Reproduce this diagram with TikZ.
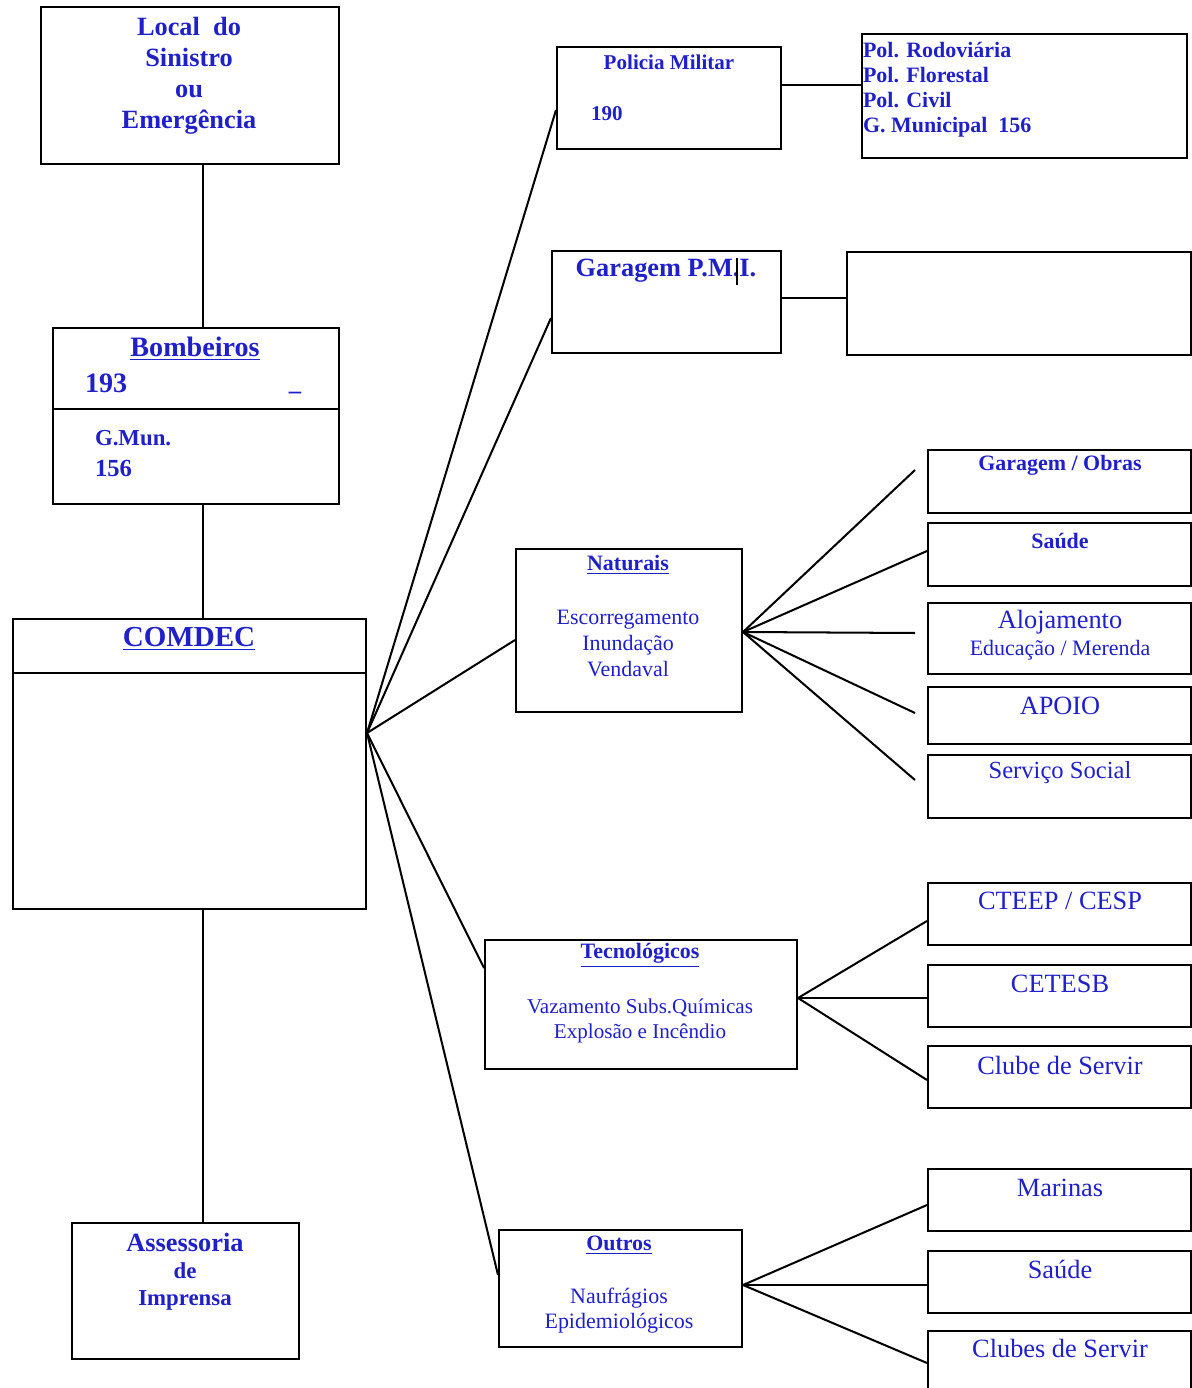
\documentclass[tikz,border=0pt]{standalone}
\usepackage{fontspec}
\setmainfont{Liberation Serif}
\usetikzlibrary{calc}
\definecolor{txtblue}{RGB}{32,32,200}
\newcommand\bx[5]{\node[box,minimum width={(#4-#2)*0.02cm},minimum height={(#5-#3)*0.02cm}] (#1) at (#2,#3) {};}
\newcommand\fs[2]{\fontsize{#1pt}{#2pt}\selectfont}
\begin{document}
\begin{tikzpicture}[x=0.02cm,y=-0.02cm,line width=1.15pt,
  box/.style={draw,anchor=north west,inner sep=0pt},
  txt/.style={text=txtblue,inner sep=0pt,align=center,yshift=-0.05cm}]
\useasboundingbox (0,0) rectangle (1192,1388);
% left column
\bx{loc}{40}{6}{338}{163}
\bx{bomb}{52}{327}{338}{503}
\bx{comdec}{12}{618}{365}{908}
\bx{imp}{71}{1222}{298}{1358}
\draw (bomb.west |- 0,409) -- (bomb.east |- 0,409);
\draw (comdec.west |- 0,673) -- (comdec.east |- 0,673);
\coordinate (spine) at (203,0);
\draw (loc.south -| spine) -- (bomb.north -| spine);
\draw (bomb.south -| spine) -- (comdec.north -| spine);
\draw (comdec.south -| spine) -- (imp.north -| spine);
\node[txt,font=\bfseries\fs{15}{17.6}] (locT) at (189,73) {Local~ do\\Sinistro\\ou\\Emergência};
\node[txt,font=\bfseries\fs{16}{19}] (bombT) at (195,346) {\underline{Bombeiros}};
\node[txt,anchor=west,font=\bfseries\fs{16}{19}] (bombN) at (84,381) {193};
\node[txt,font=\bfseries\fs{14}{16}] (bombU) at (295,390) {\_};
\node[txt,anchor=west,font=\bfseries\fs{13}{15}] (gmT) at (94,436) {G.Mun.};
\node[txt,anchor=west,font=\bfseries\fs{14}{16}] (gmN) at (94,466) {156};
\node[txt,font=\bfseries\fs{16.5}{19}] (comT) at (189,636) {\underline{COMDEC}};
\node[txt,font=\bfseries\fs{13}{15.3}] (impT) at (185,1269) {{\fs{15}{15.3}Assessoria}\\de\\Imprensa};
% upper branches
\bx{pm}{556}{46}{780}{148}
\bx{pol}{861}{33}{1186}{157}
\bx{pmi}{551}{250}{780}{352}
\bx{pmiR}{846}{251}{1190}{354}
\node[txt,font=\bfseries\fs{12}{14}] (pmT) at (669,60) {Policia Militar};
\node[txt,anchor=west,font=\bfseries\fs{12}{14}] (pmN) at (590,111) {190};
\node[txt,anchor=west,align=left,font=\bfseries\fs{12.5}{14.2}] (polT) at (862,87) {Pol. Rodoviária\\Pol. Florestal\\Pol. Civil\\G. Municipal~ 156};
\node[txt,font=\bfseries\fs{15}{17}] (pmiT) at (666,268) {Garagem P.M.I.};
\draw[line width=0.8pt] (737,258) -- (737,285);
\draw (pm.east |- 0,85) -- (pol.west |- 0,85);
\draw (pmi.east |- 0,298) -- (pmiR.west |- 0,298);
% naturais
\bx{nat}{515}{548}{741}{711}
\bx{go}{927}{449}{1190}{512}
\bx{sa}{927}{522}{1190}{585}
\bx{alo}{927}{602}{1190}{673}
\bx{apo}{927}{686}{1190}{743}
\bx{ss}{927}{754}{1190}{817}
\node[txt,font=\bfseries\fs{12.5}{14}] (natT) at (628,562) {\underline{Naturais}};
\node[txt,font=\fs{12.5}{14.7}] (natB) at (628,641) {Escorregamento\\Inundação\\Vendaval};
\node[txt,font=\bfseries\fs{12.5}{14}] (goT) at (1060,463) {Garagem / Obras};
\node[txt,font=\bfseries\fs{12.5}{14}] (saT) at (1060,539) {Saúde};
\node[txt,font=\fs{15}{17}] (aloT) at (1060,620) {Alojamento};
\node[txt,font=\fs{12.5}{14}] (aloB) at (1060,648) {Educação / Merenda};
\node[txt,font=\fs{15}{17}] (apoT) at (1060,703) {APOIO};
\node[txt,font=\fs{14}{16}] (ssT) at (1060,770) {Serviço Social};
\coordinate (natH) at (nat.east |- 0,632);
\coordinate (goE) at (915,470);
\coordinate (aloE) at (915,633);
\coordinate (apoE) at (915,713);
\coordinate (ssE) at (915,780);
\draw (natH) -- (goE);
\draw (natH) -- (sa.west |- 0,551);
\draw (natH) -- (aloE);
\draw (natH) -- (apoE);
\draw (natH) -- (ssE);
% tecnologicos
\bx{tec}{484}{939}{796}{1068}
\bx{cte}{927}{882}{1190}{944}
\bx{cet}{927}{964}{1190}{1026}
\bx{cs}{927}{1045}{1190}{1107}
\node[txt,font=\bfseries\fs{12.5}{14}] (tecT) at (640,953) {\underline{Tecnológicos}};
\node[txt,font=\fs{12}{14.2}] (tecB) at (640,1018) {Vazamento Subs.Químicas\\Explosão e Incêndio};
\node[txt,font=\fs{15}{17}] (cteT) at (1060,898) {CTEEP / CESP};
\node[txt,font=\fs{15}{17}] (cetT) at (1060,981) {CETESB};
\node[txt,font=\fs{15}{17}] (csT) at (1060,1063) {Clube de Servir};
\coordinate (tecH) at (tec.east |- 0,998);
\draw (tecH) -- (cte.west |- 0,921);
\draw (tecH) -- (cet.west |- 0,998);
\draw (tecH) -- (cs.west |- 0,1080);
% outros
\bx{out}{498}{1229}{741}{1346}
\bx{mar}{927}{1168}{1190}{1230}
\bx{sb}{927}{1250}{1190}{1312}
\bx{csb}{927}{1330}{1190}{1400}
\node[txt,font=\bfseries\fs{12.5}{14}] (outT) at (619,1243) {\underline{Outros}};
\node[txt,font=\fs{12.5}{14.2}] (outB) at (619,1308) {Naufrágios\\Epidemiológicos};
\node[txt,font=\fs{15}{17}] (marT) at (1060,1185) {Marinas};
\node[txt,font=\fs{15}{17}] (sbT) at (1060,1267) {Saúde};
\node[txt,font=\fs{15}{17}] (csbT) at (1060,1346) {Clubes de Servir};
\coordinate (outH) at (out.east |- 0,1285);
\draw (outH) -- (mar.west |- 0,1205);
\draw (outH) -- (sb.west |- 0,1285);
\draw (outH) -- (csb.west |- 0,1363);
% comdec fan
\coordinate (hub) at (comdec.east |- 0,733);
\draw (hub) -- (pm.west |- 0,110);
\draw (hub) -- (pmi.west |- 0,318);
\draw (hub) -- (nat.west |- 0,640);
\draw (hub) -- (tec.west |- 0,968);
\draw (hub) -- (out.west |- 0,1275);
\end{tikzpicture}
\end{document}
